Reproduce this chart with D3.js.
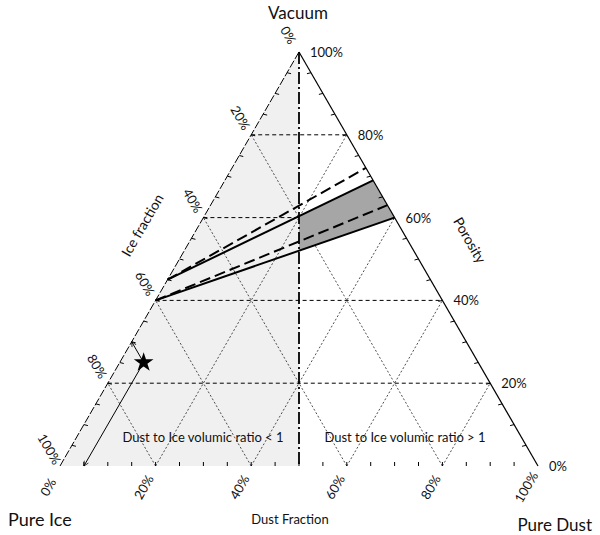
<!DOCTYPE html>
<html>
<head>
<meta charset="utf-8">
<script src="https://cdn.jsdelivr.net/npm/d3@7"></script>
<style>
body{margin:0;background:#fff}
svg,text{font-family:'Lato','Open Sans',sans-serif}
</style>
</head>
<body>
<div id="chart"></div>
<script>
"use strict";
// ternary diagram: dust along the bottom, ice on the left edge, vacuum (porosity) is the height
const axisTicks = [0, 20, 40, 60, 80, 100];
const gridLevels = [20, 40, 60, 80];
// model lines, [start, end] in % as dust and vacuum
const lineNames = ['upper', 'lower', 'upperAlt', 'lowerAlt'];
const lineDust = [[0, 31], [0, 40], [0, 28], [0, 37]];
const lineVacuum = [[45, 69], [40, 60], [45, 72], [40, 63]];
// sample marked with a star
const starDust = [5];
const starIce = [70];
const regionLabels = ['Dust to Ice volumic ratio < 1', 'Dust to Ice volumic ratio > 1'];

const width = 600, height = 535;
const x = d3.scaleLinear().domain([0, 100]).range([60, 538]);
const y = d3.scaleLinear().domain([0, 100]).range([466, 52]);
function pt(d, v) {
    return [x(d + v / 2), y(v)];
}
const line = d3.line();

let svg = d3.select('#chart')
    .append('svg')
    .attr('width', width)
    .attr('height', height)
    .style('background', '#fff');

let defs = svg.append('defs');
defs.append('marker')
    .attr('id', 'arrow')
    .attr('viewBox', '0 0 10 10')
    .attr('refX', 9).attr('refY', 5)
    .attr('markerWidth', 6).attr('markerHeight', 6)
    .attr('orient', 'auto')
    .append('path')
    .attr('d', 'M1,1 L9,5 L1,9')
    .attr('fill', 'none')
    .attr('stroke', '#000')
    .attr('stroke-width', 1.2);

// shaded half: dust / ice < 1
svg.append('path')
    .attr('d', line([pt(0, 100), pt(0, 0), pt(50, 0)]) + 'Z')
    .attr('fill', '#f0f0f0');

// grid
let grid = svg.append('g');
gridLevels.forEach(function (k) {
    grid.append('path')
        .attr('d', line([pt(100 - k, 0), pt(0, 100 - k)]))
        .attr('stroke', '#222').attr('stroke-width', 0.8)
        .attr('stroke-dasharray', '2,2').attr('fill', 'none');
    grid.append('path')
        .attr('d', line([pt(k, 0), pt(k, 100 - k)]))
        .attr('stroke', '#222').attr('stroke-width', 0.8)
        .attr('stroke-dasharray', '2,2').attr('fill', 'none');
});
gridLevels.forEach(function (k) {
    grid.append('path')
        .attr('d', line([pt(0, k), pt(100 - k, k)]))
        .attr('stroke', '#000').attr('stroke-width', 1)
        .attr('stroke-dasharray', '4,3').attr('fill', 'none');
});

// shaded band between the two solid lines, right of the dust = ice line
function onLine(j, t) {
    let d0 = lineDust[j][0], d1 = lineDust[j][1];
    let v0 = lineVacuum[j][0], v1 = lineVacuum[j][1];
    return [d0 + t * (d1 - d0), v0 + t * (v1 - v0)];
}
function crossRatio(j) {
    let d0 = lineDust[j][0], d1 = lineDust[j][1];
    let v0 = lineVacuum[j][0], v1 = lineVacuum[j][1];
    return (100 - 2 * d0 - v0) / (2 * (d1 - d0) + (v1 - v0));
}
let band = [onLine(0, crossRatio(0)), onLine(0, 1), onLine(1, 1), onLine(1, crossRatio(1))];
svg.append('path')
    .attr('d', line(band.map(function (p) { return pt(p[0], p[1]); })) + 'Z')
    .attr('fill', '#a6a6a6');

// edges
svg.append('path')
    .attr('d', line([pt(0, 0), pt(0, 100)]))
    .attr('stroke', '#000').attr('stroke-width', 1)
    .attr('stroke-dasharray', '8,2').attr('fill', 'none');
svg.append('path')
    .attr('d', line([pt(100, 0), pt(0, 100)]))
    .attr('stroke', '#000').attr('stroke-width', 1.2).attr('fill', 'none');

// ticks every 5%
let ticks = svg.append('g').attr('stroke', '#000').attr('stroke-width', 1);
d3.range(5, 100, 5).forEach(function (k) {
    let b = pt(k, 0);
    ticks.append('line').attr('x1', b[0]).attr('y1', b[1]).attr('x2', b[0]).attr('y2', b[1] - 4);
    let l = pt(0, k);
    ticks.append('line').attr('x1', l[0]).attr('y1', l[1]).attr('x2', l[0] + 4).attr('y2', l[1] + 1);
    let r = pt(100 - k, k);
    ticks.append('line').attr('x1', r[0]).attr('y1', r[1]).attr('x2', r[0] - 4).attr('y2', r[1] + 1);
});

// dust = ice separator
svg.append('path')
    .attr('d', line([pt(0, 100), pt(50, 0)]))
    .attr('stroke', '#000').attr('stroke-width', 1.8)
    .attr('stroke-dasharray', '12,3,2,3').attr('fill', 'none');

// model lines
lineNames.forEach(function (name, j) {
    svg.append('path')
        .attr('class', 'model ' + name)
        .attr('d', line([pt(lineDust[j][0], lineVacuum[j][0]), pt(lineDust[j][1], lineVacuum[j][1])]))
        .attr('stroke', '#000').attr('stroke-width', 2)
        .attr('stroke-dasharray', name.indexOf('Alt') > 0 ? '11,5' : null)
        .attr('fill', 'none');
});

// star and its read-off lines
starDust.forEach(function (d, j) {
    let v = 100 - d - starIce[j];
    let s = pt(d, v);
    svg.append('path')
        .attr('d', line([s, pt(d, 0)]))
        .attr('stroke', '#000').attr('stroke-width', 1)
        .attr('marker-end', 'url(#arrow)').attr('fill', 'none');
    svg.append('path')
        .attr('d', line([s, pt(0, 100 - starIce[j])]))
        .attr('stroke', '#000').attr('stroke-width', 1)
        .attr('marker-end', 'url(#arrow)').attr('fill', 'none');
    svg.append('path')
        .attr('d', d3.symbol(d3.symbolStar).size(120)())
        .attr('transform', 'translate(' + s[0] + ',' + s[1] + ')')
        .attr('fill', '#000');
});

// tick labels
let labels = svg.append('g').attr('fill', '#111').style('font-size', '13px');
axisTicks.forEach(function (k) {
    let r = pt(100 - k, k);
    labels.append('text')
        .attr('x', r[0] + 11).attr('y', r[1])
        .attr('dominant-baseline', 'central')
        .text(k + '%');
    let l = pt(0, 100 - k);
    labels.append('text')
        .attr('dominant-baseline', 'central').attr('text-anchor', 'middle')
        .attr('transform', 'translate(' + (l[0] - 10.5) + ',' + (l[1] - 17) + ') rotate(60)')
        .text(k + '%');
    let b = pt(k, 0);
    labels.append('text')
        .attr('dominant-baseline', 'central').attr('text-anchor', 'middle')
        .attr('transform', 'translate(' + (b[0] - 12) + ',' + (b[1] + 21) + ') rotate(-60)')
        .text(k + '%');
});

// titles
let titles = svg.append('g').attr('fill', '#111');
titles.append('text').attr('x', 298).attr('y', 12)
    .attr('text-anchor', 'middle').attr('dominant-baseline', 'central')
    .style('font-size', '17px').text('Vacuum');
titles.append('text').attr('x', 8).attr('y', 519)
    .attr('dominant-baseline', 'central')
    .style('font-size', '18px').text('Pure Ice');
titles.append('text').attr('x', 592).attr('y', 524)
    .attr('text-anchor', 'end').attr('dominant-baseline', 'central')
    .style('font-size', '17px').text('Pure Dust');
titles.append('text').attr('x', 290).attr('y', 519)
    .attr('text-anchor', 'middle').attr('dominant-baseline', 'central')
    .style('font-size', '13px').text('Dust Fraction');
titles.append('text')
    .attr('text-anchor', 'middle').attr('dominant-baseline', 'central')
    .attr('transform', 'translate(142,225) rotate(-60)')
    .style('font-size', '14px').text('Ice fraction');
titles.append('text')
    .attr('text-anchor', 'middle').attr('dominant-baseline', 'central')
    .attr('transform', 'translate(470,240) rotate(60)')
    .style('font-size', '14px').text('Porosity');
regionLabels.forEach(function (str, i) {
    titles.append('text')
        .attr('x', i === 0 ? 203 : 405).attr('y', 437)
        .attr('text-anchor', 'middle').attr('dominant-baseline', 'central')
        .style('font-size', '13px').text(str);
});
</script>
</body>
</html>
